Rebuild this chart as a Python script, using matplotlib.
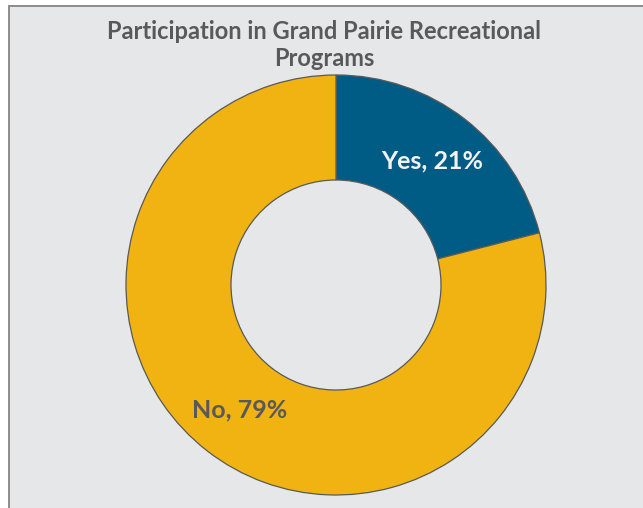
import matplotlib
matplotlib.use("Agg")
import matplotlib.pyplot as plt
from matplotlib.patches import Rectangle
import numpy as np

# Survey results
categories = ["Yes", "No"]
shares = [21, 79]
colors = ["#005B85", "#F0B312"]
label_colors = ["#F2F2F2", "#595959"]
title = "Participation in Grand Pairie Recreational\nPrograms"

W, H = 643, 508
fig = plt.figure(figsize=(W / 100, H / 100), dpi=100)
fig.patch.set_facecolor("white")

# chart frame
frame = Rectangle((8.5 / W, -0.05), 1.2, (H - 6.5) / H + 0.05,
                  transform=fig.transFigure, facecolor="#E6E7E9",
                  edgecolor="#8C8C8C", linewidth=1.4, zorder=-5)
fig.patches.append(frame)

cx, cy, r = 336, 285, 210
ax = fig.add_axes([(cx - r) / W, (H - cy - r) / H, 2 * r / W, 2 * r / H])
ax.set_facecolor("none")
ax.set_zorder(2)

wedges, _ = ax.pie(shares, colors=colors, startangle=90, counterclock=False,
                   radius=1.0,
                   wedgeprops=dict(width=0.5, edgecolor="#595959", linewidth=0.9))
ax.set_xlim(-1, 1)
ax.set_ylim(-1, 1)
ax.set_aspect("equal")
ax.axis("off")

for w, cat, val, lc in zip(wedges, categories, shares, label_colors):
    ang = np.deg2rad((w.theta1 + w.theta2) / 2)
    ax.text(0.75 * np.cos(ang), 0.75 * np.sin(ang), f"{cat}, {val}%",
            ha="center", va="center", fontsize=18, fontweight="bold",
            color=lc, family="Lato")

fig.text(324 / W, 1 - 45 / H, title, ha="center", va="center",
         fontsize=17, fontweight="bold", color="#595959", family="Lato",
         linespacing=1.18, zorder=3)

fig.savefig("out.png", dpi=100, facecolor=fig.get_facecolor())
